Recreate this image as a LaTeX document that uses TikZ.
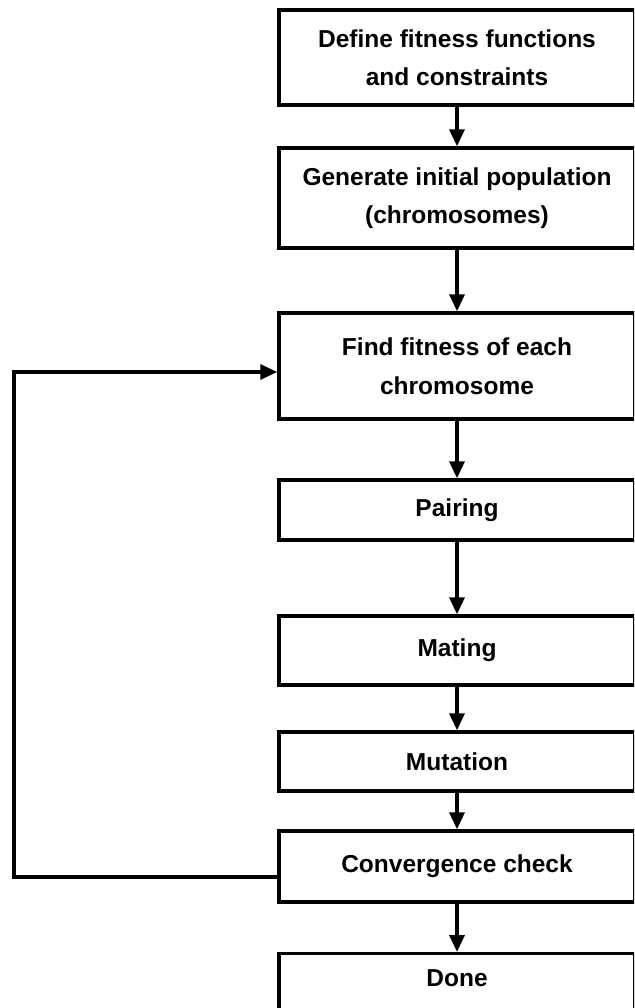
\documentclass[tikz,border=0pt]{standalone}
\usepackage{fontspec}
\setmainfont{Liberation Sans}
\usetikzlibrary{arrows.meta}
\begin{document}
\begin{tikzpicture}[x=1pt,y=-1pt,
  box/.style={draw,line width=3.4pt,minimum width=356pt,inner sep=0pt,align=center,
    font=\fontsize{24.5}{38.5}\selectfont\bfseries},
  lbl/.style={inner sep=0pt,font=\fontsize{24.5}{38.5}\selectfont\bfseries},
  flow/.style={line width=3.4pt,-{Triangle[length=17pt,width=15pt]}}]
\useasboundingbox (0,0) rectangle (634,1008);
\clip (0,0) rectangle (634,1008);
\node[box,minimum height=95pt] (b1) at (457,57.5) {Define fitness functions\\and constraints};
\node[box,minimum height=100pt] (b2) at (457,198) {Generate initial population\\(chromosomes)};
\node[box,minimum height=106pt] (b3) at (457,366) {Find fitness of each\\chromosome};
\node[box,minimum height=60pt] (b4) at (457,510) {Pairing};
\node[box,minimum height=69pt] (b5) at (457,650.5) {Mating};
\node[box,minimum height=59pt] (b6) at (457,761.5) {Mutation};
\node[box,minimum height=71pt] (b7) at (457,866.5) {Convergence check};
\node[box,minimum height=100pt,anchor=north] (b8) at (457,952) {};
\node[lbl] (t8) at (457,978) {Done};
\draw[flow] (b1.south) -- (b2.north);
\draw[flow] (b2.south) -- (b3.north);
\draw[flow] (b3.south) -- (b4.north);
\draw[flow] (b4.south) -- (b5.north);
\draw[flow] (b5.south) -- (b6.north);
\draw[flow] (b6.south) -- (b7.north);
\draw[flow] (b7.south) -- (b8.north);
\coordinate (c1) at (14,877);
\coordinate (c2) at (14,372);
\draw[flow,line join=miter] (b7.west |- c1) -- (c1) -- (c2) -- (b3.west |- c2);
\end{tikzpicture}
\end{document}
